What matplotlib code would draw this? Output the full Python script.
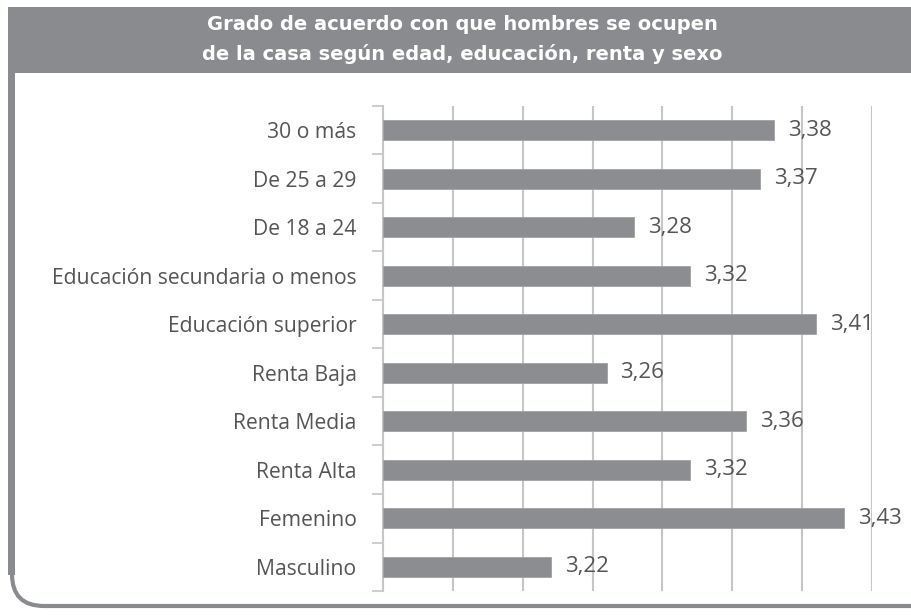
import matplotlib
matplotlib.use("Agg")
import matplotlib.pyplot as plt
from matplotlib.patches import Rectangle, FancyBboxPatch
import numpy as np

categories = ["30 o más", "De 25 a 29", "De 18 a 24", "Educación secundaria o menos",
              "Educación superior", "Renta Baja", "Renta Media", "Renta Alta",
              "Femenino", "Masculino"]
values = [3.38, 3.37, 3.28, 3.32, 3.41, 3.26, 3.36, 3.32, 3.43, 3.22]
title_lines = ["Grado de acuerdo con que hombres se ocupen",
               "de la casa según edad, educación, renta y sexo"]

W, H = 912, 615
fig = plt.figure(figsize=(W / 100, H / 100), dpi=100)
fig.patch.set_facecolor("white")

def fx(x):
    return x / W

def fy(y):
    return 1 - y / H

border = "#8a8b8f"
# frame
frame = FancyBboxPatch((fx(12), fy(606)), fx(950) - fx(12), fy(10) - fy(606),
                       boxstyle="round,pad=0,rounding_size=0.035",
                       transform=fig.transFigure, facecolor="white",
                       edgecolor=border, linewidth=3, zorder=0,
                       mutation_aspect=W / H)
fig.patches.append(frame)
fig.patches.append(Rectangle((fx(8), fy(575)), fx(15) - fx(8), fy(73) - fy(575),
                             transform=fig.transFigure, facecolor=border,
                             edgecolor="none", zorder=1))
# header band
fig.patches.append(Rectangle((fx(8), fy(73)), 1 - fx(8), fy(7) - fy(73),
                             transform=fig.transFigure, facecolor=border,
                             edgecolor="none", zorder=2))
fig.text(fx(462), fy(25), title_lines[0], ha="center", va="center",
         color="white", fontsize=14, fontweight="bold", family="DejaVu Sans",
         zorder=3)
fig.text(fx(462), fy(54), title_lines[1], ha="center", va="center",
         color="white", fontsize=14, fontweight="bold", family="DejaVu Sans",
         zorder=3)

ax = fig.add_axes([fx(383), fy(591), fx(872) - fx(383), fy(106) - fy(591)])
ax.set_zorder(5)
ax.set_facecolor("none")
y = np.arange(len(categories))
ax.barh(y, [v - 3.10 for v in values], left=3.10, height=0.42,
        color="#8c8d91", edgecolor="#a0a1a4", linewidth=0.6, zorder=3)
ax.set_xlim(3.10, 3.45)
ax.set_ylim(len(categories) - 0.5, -0.5)
ax.set_xticks(np.arange(3.15, 3.451, 0.05))
ax.xaxis.grid(True, color="#c6c6c6", linewidth=1.5, zorder=0)
ax.tick_params(axis="x", length=0, labelbottom=False)
ax.set_yticks(y)
ax.set_yticklabels(categories, fontsize=15.2, color="#555555", family="Open Sans")
ax.tick_params(axis="y", length=0, pad=19)
ax.set_yticks(np.arange(-0.5, len(categories), 1.0), minor=True)
ax.tick_params(axis="y", which="minor", length=8, width=1.2, color="#c6c6c6")
for s in ["top", "right", "bottom"]:
    ax.spines[s].set_visible(False)
ax.spines["left"].set_color("#c6c6c6")
ax.spines["left"].set_linewidth(1.5)

for yi, v in zip(y, values):
    ax.text(v + 0.0100, yi, f"{v:.2f}".replace(".", ","), va="center", ha="left",
            fontsize=16, color="#555555", family="Open Sans", zorder=4,
            clip_on=False)

fig.savefig("out.png", dpi=100)
